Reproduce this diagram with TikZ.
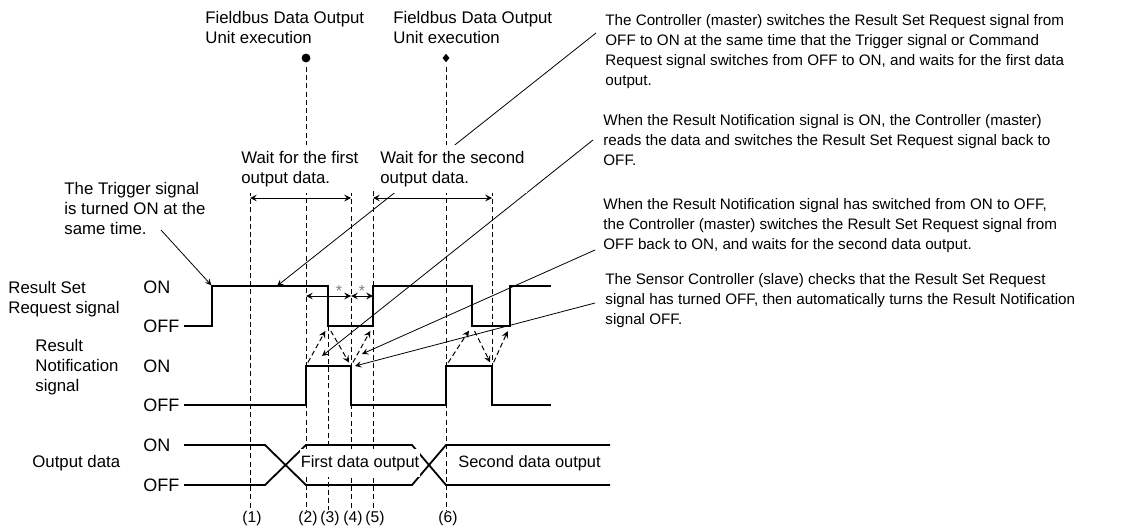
\documentclass[tikz,border=0pt]{standalone}
\usepackage{fontspec}
\setmainfont{Liberation Sans}
\usetikzlibrary{shapes.geometric, arrows, positioning, calc}

\begin{document}
\begin{tikzpicture}[
    x=0.5pt, y=-0.5pt,
    lbl/.style={inner sep=0pt, align=left, anchor=north west, font=\fontsize{8.4}{10}\selectfont},
    note/.style={lbl, font=\fontsize{7.6}{10}\selectfont},
    lvl/.style={inner sep=0pt, anchor=west, font=\fontsize{9}{10}\selectfont},
    num/.style={inner sep=0pt, font=\fontsize{7.8}{9}\selectfont},
    sig/.style={line width=0.9pt},
    guide/.style={line width=0.5pt, dash pattern=on 2.5pt off 1.6pt},
    cause/.style={guide, ->, >=stealth, shorten <=2pt, shorten >=2.8pt},
    effect/.style={guide, ->, >=stealth, shorten <=2.8pt, shorten >=2pt},
    lead/.style={line width=0.4pt, ->, >=stealth},
    span/.style={line width=0.5pt, <->, >=stealth}
  ]
  \useasboundingbox (0,0) rectangle (1138,529);

  % execution points
  \node[lbl] (fb1) at (205,11) {Fieldbus Data Output\\Unit execution};
  \node[lbl] (fb2) at (393,11) {Fieldbus Data Output\\Unit execution};
  \node[circle, fill, inner sep=0pt, minimum size=4.4pt] (ex1) at (306,58) {};
  \node[diamond, fill, inner sep=0pt, minimum width=3.6pt, minimum height=4.4pt] (ex2) at (446,58) {};

  % notes
  \node[note] (n1) at (605,14) {The Controller (master) switches the Result Set Request signal from\\OFF to ON at the same time that the Trigger signal or Command\\Request signal switches from OFF to ON, and waits for the first data\\output.};
  \node[note] (n2) at (603,114) {When the Result Notification signal is ON, the Controller (master)\\reads the data and switches the Result Set Request signal back to\\OFF.};
  \node[note] (n3) at (603,198) {When the Result Notification signal has switched from ON to OFF,\\the Controller (master) switches the Result Set Request signal from\\OFF back to ON, and waits for the second data output.};
  \node[note] (n4) at (605,273) {The Sensor Controller (slave) checks that the Result Set Request\\signal has turned OFF, then automatically turns the Result Notification\\signal OFF.};
  \node[lbl] (trig) at (64,182) {The Trigger signal\\is turned ON at the\\same time.};

  % signal names
  \node[lbl] (rsr) at (8,281) {Result Set\\Request signal};
  \node[lbl] (rn) at (35,339) {Result\\Notification\\signal};
  \node[lbl, anchor=west] (od) at (32,463) {Output data};
  \node[lvl] (rsrOn) at (143,287) {ON};
  \node[lvl] (rsrOff) at (143,326) {OFF};
  \node[lvl] (rnOn) at (143,366) {ON};
  \node[lvl] (rnOff) at (143,405) {OFF};
  \node[lvl] (odOn) at (143,445) {ON};
  \node[lvl] (odOff) at (143,485) {OFF};

  % time points
  \foreach \x/\top/\bot in {250/191/510, 306/67/510, 328/326/510, 351/191/510,
                            373/191/510, 446/67/510, 492/191/405}
    \draw[guide] (\x,\top) -- (\x,\bot);
  \foreach \x/\n in {250/1, 306/2, 328/3, 351/4, 373/5, 446/6}
    \node[num] (p\n) at (\x+2,518) {(\n)};

  % signals
  \draw[sig] (184,326) -| (212,286) -| (328,326) -| (373,286) -| (472,326) -| (510,286) -- (551,286);
  \draw[sig] (184,405) -| (306,366) -| (351,405) -| (446,366) -| (492,405) -- (551,405);
  \draw[sig] (184,445) -- (265,445) -- (306,485) -- (412,485) -- (446,445) -- (610,445);
  \draw[sig] (184,485) -- (265,485) -- (306,445) -- (412,445) -- (446,485) -- (610,485);

  \coordinate (rqA) at (328,326);
  \coordinate (rqB) at (373,326);
  \coordinate (rqC) at (472,326);
  \coordinate (rqD) at (510,326);
  \coordinate (rnA) at (306,366);
  \coordinate (rnB) at (351,366);
  \coordinate (rnC) at (446,366);
  \coordinate (rnD) at (492,366);
  \coordinate (rsrUp) at (212,286);

  \draw[cause] (rnA) -- (rqA);
  \draw[effect] (rqA) -- (rnB);
  \draw[cause] (rnB) -- (rqB);
  \draw[cause] (rnC) -- (rqC);
  \draw[effect] (rqC) -- (rnD);
  \draw[cause] (rnD) -- (rqD);

  % waiting times
  \draw[span] (250,198) -- (351,198);
  \draw[span] (373,198) -- (492,198);
  \draw[span] (306,296) -- (351,296);
  \draw[span] (351,296) -- (373,296);
  \node[font=\fontsize{8}{8}\selectfont, text=gray, inner sep=0pt] (s1) at (339,291) {*};
  \node[font=\fontsize{8}{8}\selectfont, text=gray, inner sep=0pt] (s2) at (362,291) {*};

  % leaders
  \coordinate (tip1) at (277,286);
  \coordinate (tip2) at (322,356);
  \coordinate (tip3) at (362,354);
  \coordinate (tip4) at (355,366);
  \draw[lead] ([shift={(-9,19)}]n1.north west) -- (tip1);
  \draw[lead] ([shift={(-10,26)}]n2.north west) -- (tip2);
  \draw[lead] ([shift={(-8,52)}]n3.north west) -- (tip3);
  \draw[lead] ([shift={(-10,30)}]n4.north west) -- (tip4);
  \draw[lead, shorten >=0.5pt] ([shift={(97,48)}]trig.north west) -- (rsrUp);

  \node[lbl, fill=white, inner xsep=1pt, inner ysep=3pt] (w1) at (239,145) {Wait for the first\\output data.};
  \node[lbl, fill=white, inner xsep=1pt, inner ysep=3pt] (w2) at (378,145) {Wait for the second\\output data.};
  \node[font=\fontsize{8.2}{10}\selectfont, fill=white, inner xsep=0.5pt, inner ysep=3pt] (d1) at (360,463) {First data output};
  \node[font=\fontsize{8.2}{10}\selectfont, inner sep=0pt, anchor=west] (d2) at (458,463) {Second data output};
\end{tikzpicture}
\end{document}
